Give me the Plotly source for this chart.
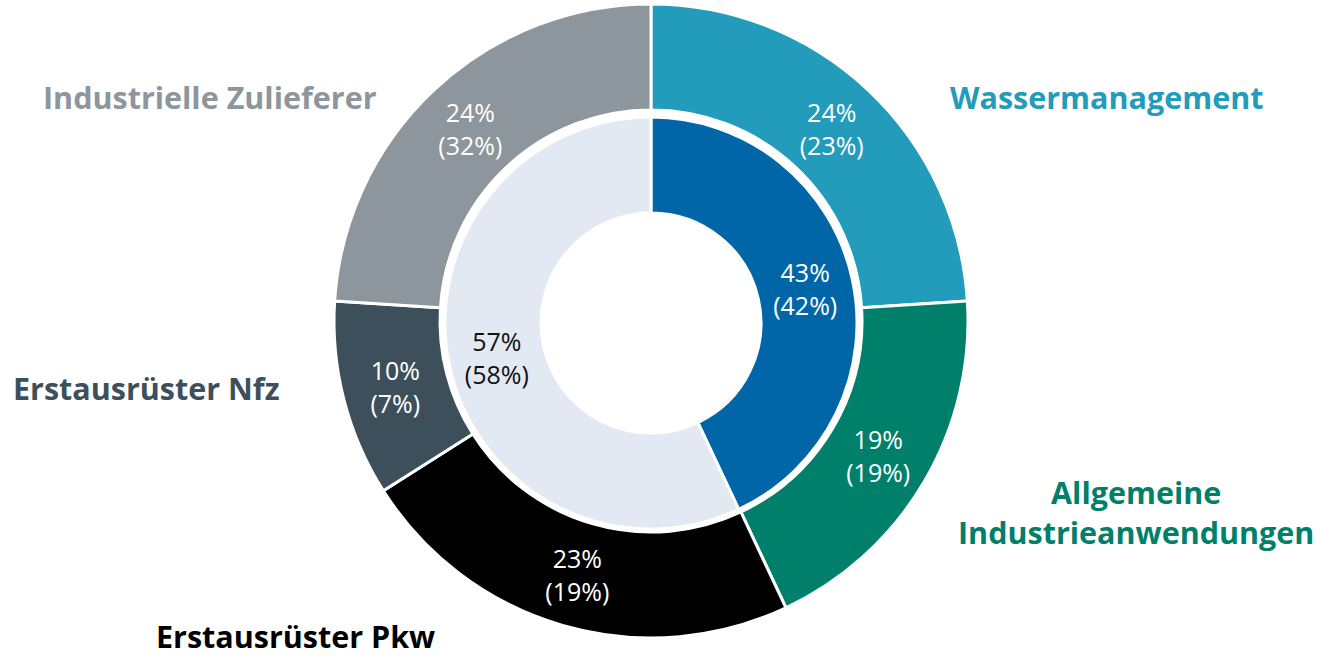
import plotly.graph_objects as go

W, H = 1317, 657

# Outer ring
outer_labels = ["Wassermanagement", "Allgemeine<br>Industrieanwendungen", "Erstausrüster Pkw",
                "Erstausrüster Nfz", "Industrielle Zulieferer"]
outer_values = [24, 19, 23, 10, 24]
outer_prev = [23, 19, 19, 7, 32]
outer_colors = ["#239bbb", "#007f6b", "#000000", "#3d4f5b", "#8c969c"]

# Inner ring
inner_labels = ["Wasser & Industrie", "Automotive"]
inner_values = [43, 57]
inner_prev = [42, 58]
inner_colors = ["#0066a8", "#e3e9f2"]
inner_text_colors = ["#ffffff", "#111111"]

FONT = "Open Sans"
R_out = 317
R_in = 206


def dom(cx, cy, r):
    y0 = max(0.0, (H - cy - r) / H)
    y1 = min(1.0, (H - cy + r) / H)
    return dict(x=[(cx - r) / W, (cx + r) / W], y=[y0, y1])


fig = go.Figure()
fig.add_trace(go.Pie(
    labels=outer_labels, values=outer_values,
    text=[f"{v}%<br>({p}%)" for v, p in zip(outer_values, outer_prev)],
    textinfo="text", textposition="inside", insidetextorientation="horizontal",
    textfont=dict(family=FONT, size=25, color="white"),
    marker=dict(colors=outer_colors, line=dict(color="white", width=3)),
    sort=False, direction="clockwise", rotation=0,
    hole=211 / R_out, domain=dom(651, 321, R_out), showlegend=False, hoverinfo="label+value",
))
fig.add_trace(go.Pie(
    labels=inner_labels, values=inner_values,
    text=[f"{v}%<br>({p}%)" for v, p in zip(inner_values, inner_prev)],
    textinfo="text", textposition="inside", insidetextorientation="horizontal",
    textfont=dict(family=FONT, size=25, color=inner_text_colors),
    marker=dict(colors=inner_colors, line=dict(color="white", width=3)),
    sort=False, direction="clockwise", rotation=0,
    hole=110 / R_in, domain=dom(651, 323, R_in), showlegend=False, hoverinfo="label+value",
))

# Outside category labels (pixel positions of label centres)
label_pos = [
    (1106, 97),
    (1136, 512),
    (295, 636),
    (146, 388),
    (210, 97),
]
for (x, y), lab, col in zip(label_pos, outer_labels, outer_colors):
    fig.add_annotation(
        x=x / W, y=1 - y / H, xref="paper", yref="paper",
        text=f"<b>{lab}</b>", showarrow=False, align="center",
        font=dict(family=FONT, size=30.5, color=col),
        xanchor="center", yanchor="middle",
    )

fig.update_layout(
    width=W, height=H, margin=dict(l=0, r=0, t=0, b=0),
    paper_bgcolor="white", plot_bgcolor="white",
)
fig.write_html("out.html", config={"displayModeBar": False},
               post_script="document.body.style.margin='0';")
